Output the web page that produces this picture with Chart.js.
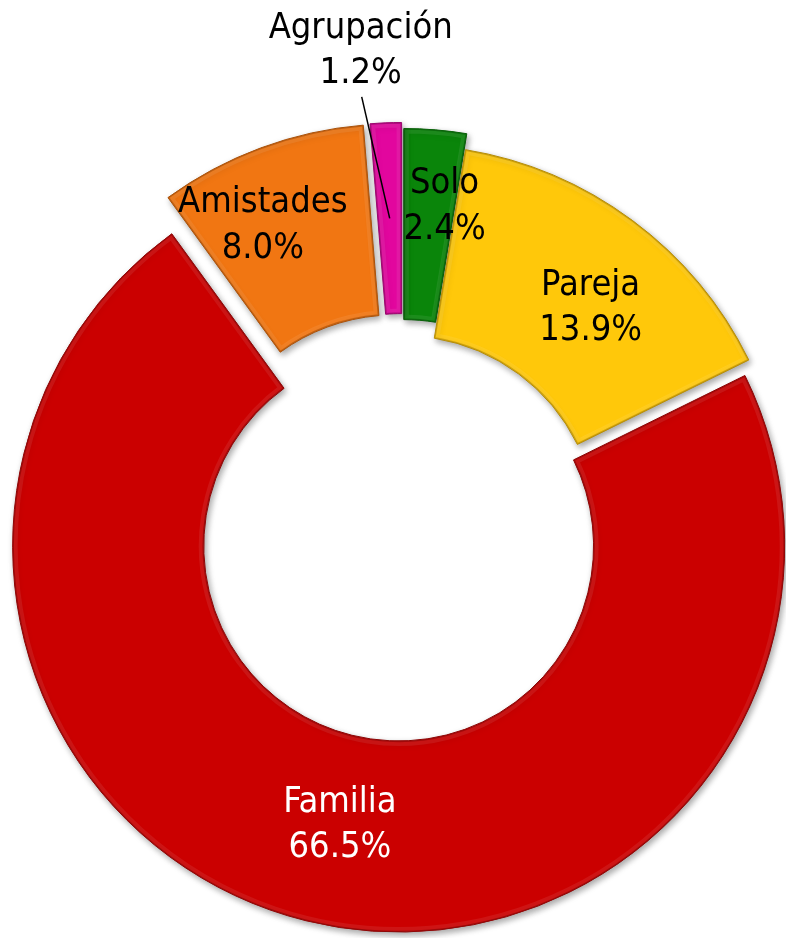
<!DOCTYPE html>
<html>
<head>
<meta charset="utf-8">
<script src="https://cdn.jsdelivr.net/npm/chart.js@4.4.0/dist/chart.umd.min.js"></script>
<style>
  html, body { margin: 0; padding: 0; background: #fff; }
  #wrap { width: 786px; height: 938px; }
</style>
</head>
<body>
<div id="wrap"><canvas id="c" width="786" height="938"></canvas></div>
<script>
// data, clockwise from 12 o'clock
const categories = ['Solo', 'Pareja', 'Familia', 'Amistades', 'Agrupación'];
const shares = [2.4, 13.9, 66.5, 8.0, 1.2];
const valueLabels = ['2.4%', '13.9%', '66.5%', '8.0%', '1.2%'];

// styles
const fillColors = ['#0A850A', '#FFC80A', '#CB0000', '#F17612', '#E2069E'];
const edgeColors = ['#045C04', '#B48A00', '#8C0000', '#A94E05', '#98006A'];
const textColors = ['#000', '#000', '#fff', '#000', '#000'];
const explode = [16, 0, 16, 22, 22];               // px, along the slice mid angle
const labelShift = [[17, -19.5], [15, 10], [11, -4], [-31, -13], [-29, -168]];
const leaderFor = [false, false, false, false, true];

// push exploded slices outwards (without chart.js' radius "fix" for offset)
const explodePlugin = {
  id: 'explode',
  afterDatasetUpdate(chart, args) {
    args.meta.data.forEach((arc, i) => {
      const mid = (arc.startAngle + arc.endAngle) / 2;
      arc.x += Math.cos(mid) * explode[i];
      arc.y += Math.sin(mid) * explode[i];
    });
  }
};

function arcPath(ctx, a) {
  ctx.beginPath();
  ctx.arc(a.x, a.y, a.outerRadius, a.startAngle, a.endAngle);
  ctx.arc(a.x, a.y, a.innerRadius, a.endAngle, a.startAngle, true);
  ctx.closePath();
}

const bevelPlugin = {
  id: 'bevel',
  beforeDatasetsDraw(chart) {
    const ctx = chart.ctx;
    ctx.save();
    ctx.shadowColor = 'rgba(0,0,0,0.35)';
    ctx.shadowBlur = 6;
    ctx.shadowOffsetX = 2;
    ctx.shadowOffsetY = 3;
  },
  afterDatasetsDraw(chart) {
    const ctx = chart.ctx;
    ctx.restore();
    chart.getDatasetMeta(0).data.forEach((a, i) => {
      ctx.save();
      arcPath(ctx, a);
      ctx.clip();
      arcPath(ctx, a);
      ctx.lineJoin = 'round';
      ctx.strokeStyle = 'rgba(255,255,255,0.08)';
      ctx.lineWidth = 10;
      ctx.stroke();
      ctx.strokeStyle = edgeColors[i];
      ctx.globalAlpha = 0.6;
      ctx.lineWidth = 2.5;
      ctx.stroke();
      ctx.restore();
    });
  }
};

const labelPlugin = {
  id: 'sliceLabels',
  afterDraw(chart) {
    const ctx = chart.ctx;
    ctx.save();
    ctx.font = '36px "DejaVu Sans Condensed", "DejaVu Sans"';
    ctx.textAlign = 'center';
    ctx.textBaseline = 'alphabetic';
    chart.getDatasetMeta(0).data.forEach((a, i) => {
      const mid = (a.startAngle + a.endAngle) / 2;
      const r = (a.innerRadius + a.outerRadius) / 2;
      const ax = a.x + Math.cos(mid) * r;
      const ay = a.y + Math.sin(mid) * r;
      const lx = ax + labelShift[i][0];
      const ly = ay + labelShift[i][1];
      if (leaderFor[i]) {
        ctx.strokeStyle = '#000';
        ctx.lineWidth = 1.5;
        ctx.beginPath();
        ctx.moveTo(lx + 1, ly + 46.5);
        ctx.lineTo(ax, ay);
        ctx.stroke();
      }
      ctx.fillStyle = textColors[i];
      ctx.fillText(categories[i], lx, ly - 12.5);
      ctx.fillText(valueLabels[i], lx, ly + 33);
    });
    ctx.restore();
  }
};

new Chart(document.getElementById('c'), {
  type: 'doughnut',
  data: {
    labels: categories,
    datasets: [{
      data: shares,
      backgroundColor: fillColors,
      borderColor: edgeColors,
      borderWidth: 1,
      radius: 386,
      clip: false
    }]
  },
  options: {
    responsive: false,
    animation: false,
    events: [],
    cutout: '50.5%',
    layout: { padding: { left: 19, top: 123, right: 0, bottom: 0 } },
    plugins: {
      legend: { display: false },
      tooltip: { enabled: false }
    }
  },
  plugins: [explodePlugin, bevelPlugin, labelPlugin]
});
</script>
</body>
</html>
